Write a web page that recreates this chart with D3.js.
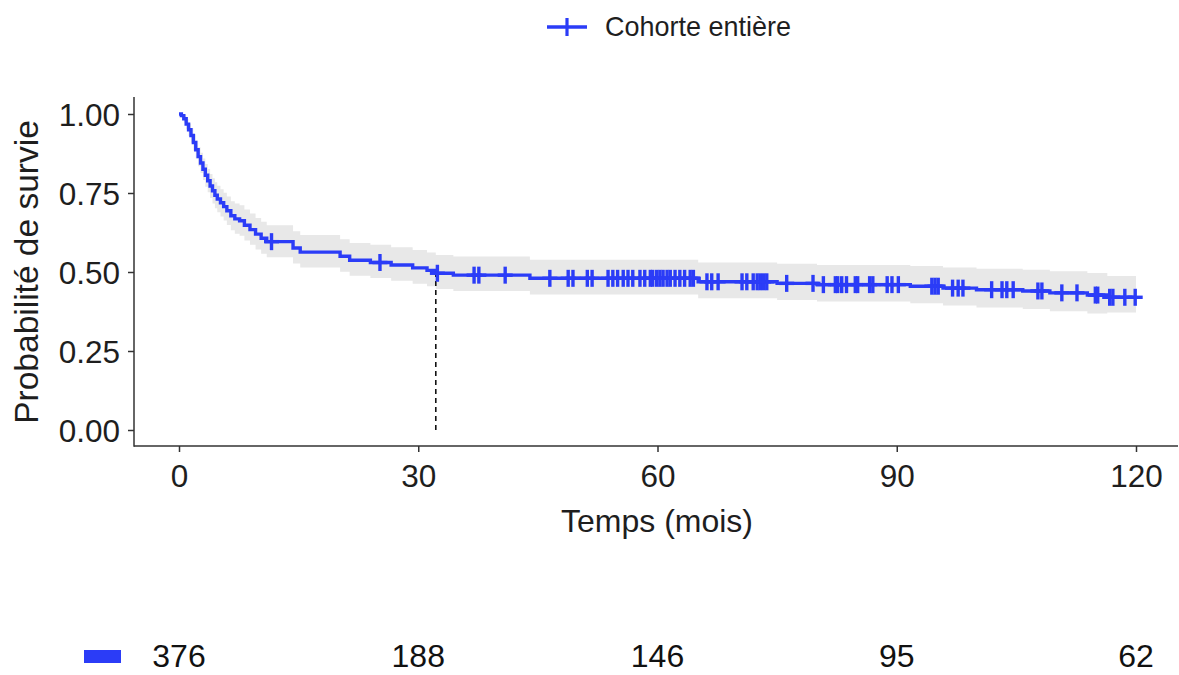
<!DOCTYPE html>
<html><head><meta charset="utf-8">
<script src="https://cdn.jsdelivr.net/npm/d3@7"></script>
<style>body{margin:0;background:#fff}svg{display:block}text{font-family:"Liberation Sans",Arial,sans-serif}</style>
</head><body><svg id="c" width="1179" height="675"></svg>
<script>
// Kaplan-Meier step data (months, survival, CI lower, CI upper)
const times = [0,0.3,0.6,0.9,1.2,1.5,1.8,2.1,2.4,2.7,3.0,3.3,3.6,3.9,4.2,4.5,4.8,5.2,5.6,6.0,6.5,7.0,7.6,8.2,8.9,9.6,10.3,11.0,14.3,15.2,20.2,21.4,24.0,26.6,29.3,31.1,32.2,34.4,44.0,65.1,75.0,80.0,91.7,95.8,100.0,105.8,109.2,113.9,116.4,120.0];
const surv  = [1.000,0.995,0.985,0.968,0.950,0.932,0.910,0.887,0.865,0.845,0.825,0.806,0.789,0.772,0.757,0.743,0.731,0.719,0.707,0.694,0.678,0.668,0.662,0.648,0.634,0.620,0.607,0.596,0.576,0.563,0.550,0.537,0.530,0.522,0.513,0.505,0.496,0.490,0.480,0.469,0.464,0.460,0.455,0.449,0.444,0.440,0.434,0.427,0.420,0.420];
const lower = [1.000,0.988,0.973,0.952,0.930,0.909,0.884,0.859,0.835,0.813,0.791,0.770,0.752,0.734,0.717,0.702,0.689,0.676,0.663,0.649,0.632,0.621,0.615,0.600,0.586,0.571,0.558,0.547,0.527,0.514,0.501,0.488,0.481,0.472,0.463,0.455,0.446,0.440,0.429,0.417,0.411,0.407,0.401,0.394,0.388,0.383,0.376,0.369,0.372,0.372];
const upper = [1.000,1.000,0.997,0.984,0.970,0.955,0.936,0.915,0.895,0.877,0.859,0.842,0.826,0.810,0.797,0.784,0.773,0.762,0.751,0.739,0.724,0.717,0.711,0.698,0.685,0.671,0.659,0.648,0.629,0.617,0.604,0.592,0.586,0.578,0.570,0.562,0.554,0.549,0.539,0.530,0.526,0.522,0.519,0.514,0.510,0.507,0.502,0.497,0.487,0.487];
const censorTimes = [11.6,25.2,32.4,37.0,37.6,40.9,46.5,48.8,49.4,51.2,51.8,53.8,54.4,55.0,55.7,56.3,56.9,57.8,58.4,59.1,59.4,59.9,60.3,60.7,61.2,61.6,62.2,62.8,63.4,64.1,64.5,66.2,66.8,67.6,70.6,71.2,72.0,72.5,72.9,73.3,73.7,76.2,79.5,80.8,82.3,82.6,83.1,83.7,84.8,85.1,86.6,87.0,88.8,89.4,90.2,94.4,94.8,95.2,97.0,97.7,98.3,101.9,103.2,103.8,104.6,107.7,108.2,110.7,112.6,114.9,115.2,116.7,117.1,118.6,119.9];
const medianTime = 32.2;
const xTicks = [0,30,60,90,120];
const yTicks = [0,0.25,0.5,0.75,1.0];
const atRisk = [376,188,146,95,62];
const seriesName = "Cohorte entière";
const xTitle = "Temps (mois)";
const yTitle = "Probabilité de survie";

const col = "#2B3CF7", ink = "#1e1e1e";
const svg = d3.select("#c");
const x = d3.scaleLinear().domain([0,120]).range([179,1136]);
const y = d3.scaleLinear().domain([0,1]).range([430,114]);

const data = times.map((t,i)=>({t, s:surv[i], lo:lower[i], hi:upper[i]}));

// CI band
svg.append("path").datum(data)
  .attr("d", d3.area().curve(d3.curveStepAfter).x(d=>x(d.t)).y0(d=>y(d.lo)).y1(d=>y(d.hi)))
  .attr("fill","#E8E8E8");

// median line
svg.append("line").attr("x1",x(medianTime)).attr("x2",x(medianTime))
  .attr("y1",y(0.5)).attr("y2",y(0))
  .attr("stroke","#111").attr("stroke-width",1.6).attr("stroke-dasharray","5,4");

// survival curve
svg.append("path").datum(data)
  .attr("d", d3.line().curve(d3.curveStepAfter).x(d=>x(d.t)).y(d=>y(d.s)))
  .attr("fill","none").attr("stroke",col).attr("stroke-width",3.4);

// censor marks
const bis = d3.bisector(d=>d.t).right;
const sAt = t => data[Math.max(0,bis(data,t)-1)].s;
const cg = svg.append("g").attr("stroke",col).attr("stroke-width",3.4);
censorTimes.forEach(t=>{
  const cx = x(t), cy = y(sAt(t));
  cg.append("line").attr("x1",cx-7.5).attr("x2",cx+7.5).attr("y1",cy).attr("y2",cy);
  cg.append("line").attr("x1",cx).attr("x2",cx).attr("y1",cy-8.5).attr("y2",cy+8.5);
});

// axes
const xa = svg.append("g").attr("transform","translate(0,446)")
  .call(d3.axisBottom(x).tickValues(xTicks).tickSize(6).tickPadding(6).tickFormat(d3.format("d")));
const ya = svg.append("g").attr("transform","translate(134,0)")
  .call(d3.axisLeft(y).tickValues(yTicks).tickSize(6).tickPadding(8).tickFormat(d3.format(".2f")));
[xa,ya].forEach(a=>{
  a.select(".domain").remove();
  a.selectAll(".tick line").attr("stroke","#333").attr("stroke-width",1.5);
  a.selectAll("text").attr("fill",ink).style("font-size","31.5px");
});
xa.selectAll("text").attr("dy","0.93em");
ya.selectAll("text").attr("dy","0.35em");
svg.append("line").attr("x1",134).attr("x2",134).attr("y1",97).attr("y2",446.75).attr("stroke","#333").attr("stroke-width",1.5);
svg.append("line").attr("x1",134).attr("x2",1178).attr("y1",446).attr("y2",446).attr("stroke","#333").attr("stroke-width",1.5);

// titles
svg.append("text").attr("x",657).attr("y",532).attr("text-anchor","middle")
  .style("font-size","32px").attr("fill",ink).text(xTitle);
svg.append("text").attr("transform","translate(38,272) rotate(-90)").attr("text-anchor","middle")
  .style("font-size","33.5px").attr("fill",ink).text(yTitle);

// legend
const lg = svg.append("g");
lg.append("line").attr("x1",547).attr("x2",587).attr("y1",27).attr("y2",27).attr("stroke",col).attr("stroke-width",3.4);
lg.append("line").attr("x1",567).attr("x2",567).attr("y1",18).attr("y2",36).attr("stroke",col).attr("stroke-width",3.2);
lg.append("text").attr("transform","translate(605,36) scale(1,1.04)")
  .style("font-size","27px").attr("fill",ink).text(seriesName);

// risk table
svg.append("rect").attr("x",84).attr("y",650).attr("width",37).attr("height",13).attr("fill",col);
svg.append("g").selectAll("text").data(atRisk).join("text")
  .attr("x",(d,i)=>x(xTicks[i])).attr("y",667)
  .attr("text-anchor","middle").style("font-size","32px").attr("fill","#111").text(d=>d);
</script></body></html>
